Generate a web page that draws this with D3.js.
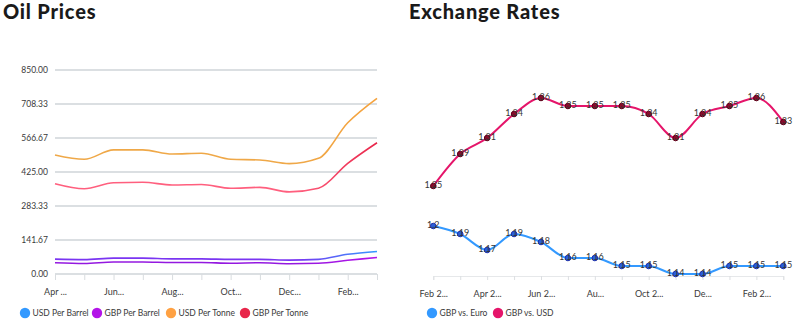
<!DOCTYPE html>
<html>
<head>
<meta charset="utf-8">
<script src="https://cdn.jsdelivr.net/npm/d3@7"></script>
<style>
  html, body { margin: 0; padding: 0; background: #fff; }
  svg { display: block; font-family: Lato, "Noto Sans", sans-serif; }
</style>
</head>
<body>
<svg id="chart" width="800" height="328"></svg>
<script>
// ---- Oil prices (monthly) ----
const oilMonths = ["Apr 2020", "May 2020", "Jun 2020", "Jul 2020", "Aug 2020", "Sep 2020",
                   "Oct 2020", "Nov 2020", "Dec 2020", "Jan 2021", "Feb 2021", "Mar 2021"];
const oilTickLabels = ["Apr ...", "", "Jun...", "", "Aug...", "", "Oct...", "", "Dec...", "", "Feb...", ""];
const usdPerBarrel = [62, 60, 66, 66, 63, 63, 61, 61, 58, 61, 82, 94];
const gbpPerBarrel = [47, 44, 50, 50, 48, 48, 45, 47, 43, 45, 57, 69];
const usdPerTonne  = [496, 478, 517, 517, 500, 503, 478, 475, 460, 482, 630, 732];
const gbpPerTonne  = [376, 355, 380, 382, 371, 373, 357, 361, 342, 357, 461, 547];
const oilYTicks = [0, 141.67, 283.33, 425, 566.67, 708.33, 850];

// ---- Exchange rates (monthly) ----
const fxMonths = ["Feb 2020", "Mar 2020", "Apr 2020", "May 2020", "Jun 2020", "Jul 2020", "Aug 2020",
                  "Sep 2020", "Oct 2020", "Nov 2020", "Dec 2020", "Jan 2021", "Feb 2021", "Mar 2021"];
const fxTickLabels = ["Feb 2...", "", "Apr 2...", "", "Jun 2...", "", "Au...", "", "Oct 2...", "", "De...", "", "Feb 2...", ""];
const gbpVsEuro = [1.20, 1.19, 1.17, 1.19, 1.18, 1.16, 1.16, 1.15, 1.15, 1.14, 1.14, 1.15, 1.15, 1.15];
const gbpVsUsd  = [1.25, 1.29, 1.31, 1.34, 1.36, 1.35, 1.35, 1.35, 1.34, 1.31, 1.34, 1.35, 1.36, 1.33];

const svg = d3.select("#chart");
const defs = svg.append("defs");
const gridColor = "#cfd4d8";
const textColor = "#3a3a3a";

// ================= Oil Prices =================
svg.append("text").attr("x", 3).attr("y", 19)
  .attr("font-size", 20).attr("font-weight", 900).attr("letter-spacing", 0.8).attr("fill", "#1a1a1a")
  .text("Oil Prices");

const ox = d3.scalePoint().domain(oilMonths).range([55, 377]);
const oy = d3.scaleLinear().domain([0, 850]).range([274, 70]);

// horizontal grid
svg.append("g").selectAll("line").data(oilYTicks).join("line")
  .attr("x1", 55).attr("x2", 377)
  .attr("y1", d => oy(d)).attr("y2", d => oy(d))
  .attr("stroke", gridColor).attr("stroke-width", 1.5);

// y axis labels
const oyAxis = svg.append("g").attr("transform", "translate(55,0)")
  .call(d3.axisLeft(oy).tickValues(oilYTicks).tickFormat(d3.format(".2f")).tickSize(0).tickPadding(7));
oyAxis.select(".domain").remove();
oyAxis.selectAll("text").attr("font-size", 8.5).attr("fill", textColor).attr("font-family", "Lato, sans-serif");

// x axis
const oxAxis = svg.append("g").attr("transform", "translate(0,274)")
  .call(d3.axisBottom(ox).tickSize(6).tickPadding(9).tickFormat((d, i) => oilTickLabels[i]));
oxAxis.select(".domain").remove();
oxAxis.selectAll("line").attr("stroke", "#d8dcdf");
oxAxis.selectAll("text").attr("font-size", 9).attr("fill", textColor).attr("font-family", "Lato, sans-serif");

const oilSeries = [
  { name: "USD Per Barrel", values: usdPerBarrel, legend: "#3399ff", from: "#7a35f2", to: "#3399ff" },
  { name: "GBP Per Barrel", values: gbpPerBarrel, legend: "#b314e8", from: "#9418e0", to: "#b314e8" },
  { name: "USD Per Tonne",  values: usdPerTonne,  legend: "#ffa142", from: "#efa848", to: "#f5a23c" },
  { name: "GBP Per Tonne",  values: gbpPerTonne,  legend: "#e8264a", from: "#ff5f7e", to: "#e8264a" }
];

oilSeries.forEach((s, k) => {
  const id = "oilGrad" + k;
  const g = defs.append("linearGradient").attr("id", id)
    .attr("gradientUnits", "userSpaceOnUse")
    .attr("x1", 55).attr("x2", 377).attr("y1", 0).attr("y2", 0);
  g.append("stop").attr("offset", "0%").attr("stop-color", s.from);
  g.append("stop").attr("offset", "75%").attr("stop-color", s.from);
  g.append("stop").attr("offset", "100%").attr("stop-color", s.to);
  s.gradient = id;
});

const oilLine = d3.line().curve(d3.curveMonotoneX)
  .x((d, i) => ox(oilMonths[i])).y(d => oy(d));

[oilSeries[1], oilSeries[0], oilSeries[3], oilSeries[2]].forEach(s => {
  svg.append("path").attr("d", oilLine(s.values))
    .attr("fill", "none").attr("stroke", `url(#${s.gradient})`).attr("stroke-width", 1.6);
});

// legend
const oilLegendX = [25, 97, 171, 245];
const oilLegend = svg.append("g").selectAll("g").data(oilSeries).join("g")
  .attr("transform", (d, i) => `translate(${oilLegendX[i]},313)`);
oilLegend.append("circle").attr("r", 5.2).attr("fill", d => d.legend);
oilLegend.append("text").attr("x", 7.5).attr("dy", "0.35em")
  .attr("font-size", 8.5).attr("fill", textColor).text(d => d.name);

// ================= Exchange Rates =================
svg.append("text").attr("x", 409).attr("y", 19)
  .attr("font-size", 20).attr("font-weight", 900).attr("letter-spacing", 0.8).attr("fill", "#1a1a1a")
  .text("Exchange Rates");

const fx = d3.scalePoint().domain(fxMonths).range([433.3, 783.3]);
const fy = d3.scaleLinear().domain([1.1375, 1.395]).range([276, 70]);

const fxAxis = svg.append("g").attr("transform", "translate(0,276)")
  .call(d3.axisBottom(fx).tickSize(4).tickPadding(11).tickFormat((d, i) => fxTickLabels[i]));
fxAxis.select(".domain").attr("stroke", "#e6e8ea");
fxAxis.selectAll("line").attr("stroke", "#dcdfe2");
fxAxis.selectAll("text").attr("font-size", 9).attr("fill", textColor).attr("font-family", "Lato, sans-serif");

const fxSeries = [
  { name: "GBP vs. Euro", values: gbpVsEuro, color: "#3399ff", marker: "#1d2fa8", markerFill: "#2a5fd8" },
  { name: "GBP vs. USD",  values: gbpVsUsd,  color: "#e5156a", marker: "#5a0018", markerFill: "#8a0a2a" }
];

const fxLine = d3.line().curve(d3.curveMonotoneX)
  .x((d, i) => fx(fxMonths[i])).y(d => fy(d));

fxSeries.forEach(s => {
  const g = svg.append("g");
  g.append("path").attr("d", fxLine(s.values))
    .attr("fill", "none").attr("stroke", s.color).attr("stroke-width", 2);
  g.selectAll("circle").data(s.values).join("circle")
    .attr("cx", (d, i) => fx(fxMonths[i])).attr("cy", d => fy(d))
    .attr("r", 2.8).attr("fill", s.markerFill).attr("stroke", s.marker).attr("stroke-width", 1);
  g.selectAll("text").data(s.values).join("text")
    .attr("x", (d, i) => fx(fxMonths[i])).attr("y", d => fy(d) - 1)
    .attr("dy", "0.35em").attr("text-anchor", "middle")
    .attr("font-size", 9).attr("fill", "#333").text(d => d3.format(".2~f")(d));
});

const fxLegendX = [432, 498];
const fxLegend = svg.append("g").selectAll("g").data(fxSeries).join("g")
  .attr("transform", (d, i) => `translate(${fxLegendX[i]},313)`);
fxLegend.append("circle").attr("r", 5.2).attr("fill", d => d.color);
fxLegend.append("text").attr("x", 7.5).attr("dy", "0.35em")
  .attr("font-size", 8.5).attr("fill", textColor).text(d => d.name);
</script>
</body>
</html>
